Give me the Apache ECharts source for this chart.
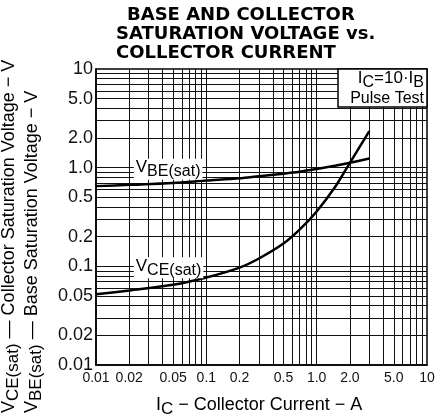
<!DOCTYPE html>
<html><head><meta charset="utf-8">
<script src="https://cdn.jsdelivr.net/npm/echarts@6/dist/echarts.min.js"></script>
<style>html,body{margin:0;padding:0;background:#fff}#c{width:439px;height:415px}</style>
</head><body><div id="c"></div>
<script>
// Collector current (A)
const current = [0.01, 0.02, 0.05, 0.1, 0.2, 0.3, 0.5, 0.7, 1.0, 1.5, 2.0, 3.0];
// VBE(sat) (V)
const vbeSat = [0.65, 0.67, 0.70, 0.74, 0.78, 0.82, 0.87, 0.91, 0.97, 1.05, 1.12, 1.24];
// VCE(sat) (V)
const vceSat = [0.052, 0.057, 0.065, 0.077, 0.097, 0.12, 0.17, 0.235, 0.36, 0.66, 1.12, 2.35];
// Tick labels
const xTickLabels = [0.01, 0.02, 0.05, 0.1, 0.2, 0.5, 1, 2, 5, 10];
const yTickLabels = [0.01, 0.02, 0.05, 0.1, 0.2, 0.5, 1, 2, 5, 10];
// Grid structure
const gridDecades = [0.01, 0.1, 1];
const gridSteps = [2, 3, 4, 5, 6, 7, 8, 9, 10];

function fmt(list) {
  return function (v) {
    for (const t of list) {
      if (Math.abs(Math.log10(v / t)) < 1e-4) {
        if (t >= 10) return String(t);
        if (t >= 1) return t.toFixed(1);
        return String(t);
      }
    }
    return '';
  };
}

const gridLines = [];
gridDecades.forEach(d => gridSteps.forEach(s => {
  const v = +(d * s).toPrecision(3);
  if (v < 10) { gridLines.push({ xAxis: v }); gridLines.push({ yAxis: v }); }
}));

const FONT = 'Liberation Sans, Arial, sans-serif';
const chart = echarts.init(document.getElementById('c'), null, { renderer: 'canvas' });

const option = {
  animation: false,
  backgroundColor: '#fff',
  grid: { left: 96, right: 12, top: 69, bottom: 50, show: true, borderColor: '#000', borderWidth: 1.5, backgroundColor: 'transparent' },
  xAxis: {
    type: 'log', logBase: 10, min: 0.01, max: 10,
    axisLine: { show: true, lineStyle: { color: '#000', width: 1.5 } },
    axisTick: { show: false },
    splitLine: { show: false },
    minorTick: { show: false }, minorSplitLine: { show: false },
    axisLabel: { customValues: xTickLabels, formatter: fmt(xTickLabels), fontSize: 14, color: '#111', margin: 6, fontFamily: FONT, hideOverlap: false }
  },
  yAxis: {
    type: 'log', logBase: 10, min: 0.01, max: 10,
    axisLine: { show: true, lineStyle: { color: '#000', width: 1.5 } },
    axisTick: { show: false },
    splitLine: { show: false },
    minorTick: { show: false }, minorSplitLine: { show: false },
    axisLabel: { customValues: yTickLabels, formatter: fmt(yTickLabels), fontSize: 18, color: '#111', margin: 3, fontFamily: FONT, hideOverlap: false }
  },
  series: [
    {
      type: 'line', data: [], silent: true, z: 1,
      markLine: {
        silent: true, symbol: ['none', 'none'], animation: false,
        label: { show: false },
        lineStyle: { color: '#111', width: 1, type: 'solid' },
        emphasis: { disabled: true },
        data: gridLines
      }
    },
    {
      name: 'VBE(sat)', type: 'line', z: 5, symbol: 'none', smooth: 0.3,
      lineStyle: { color: '#000', width: 2.5 },
      data: current.map((c, i) => [c, vbeSat[i]])
    },
    {
      name: 'VCE(sat)', type: 'line', z: 5, symbol: 'none', smooth: 0.3,
      lineStyle: { color: '#000', width: 2.5 },
      data: current.map((c, i) => [c, vceSat[i]])
    }
  ]
};
chart.setOption(option);

const p = (x, y) => chart.convertToPixel({ gridIndex: 0 }, [x, y]);
const pBE = p(0.022, 1.0);
const pCE = p(0.022, 0.1);
const gTop = p(10, 10);

function rich(size) {
  return {
    m: { fontSize: size, fontFamily: FONT, color: '#000', verticalAlign: 'top', lineHeight: size + 4 },
    s: { fontSize: size - 1, fontFamily: FONT, color: '#000', verticalAlign: 'bottom', lineHeight: size + 4, padding: [6, 0, 0, 0] }
  };
}

chart.setOption({
  graphic: [
    { type: 'text', left: 127, top: 6, style: { text: 'BASE AND COLLECTOR', font: 'bold 18px DejaVu Sans', fill: '#000' } },
    { type: 'text', left: 116, top: 25, style: { text: 'SATURATION VOLTAGE vs.', font: 'bold 18px DejaVu Sans', fill: '#000' } },
    { type: 'text', left: 116, top: 44, style: { text: 'COLLECTOR CURRENT', font: 'bold 18px DejaVu Sans', fill: '#000' } },
    // condition box
    { type: 'rect', z: 50, shape: { x: gTop[0] - 89, y: gTop[1], width: 89, height: 38 }, style: { fill: '#fff', stroke: '#000', lineWidth: 1.5 } },
    { type: 'text', z: 51, x: gTop[0] - 3, y: gTop[1] + 1, style: {
        text: '{m|I}{s|C}{m|=10·I}{s|B}', align: 'right', verticalAlign: 'top', rich: rich(17) } },
    { type: 'text', z: 51, x: gTop[0] - 3, y: gTop[1] + 22, style: {
        text: 'Pulse Test', align: 'right', verticalAlign: 'top', font: '16px ' + FONT, fill: '#000' } },
    // curve labels
    { type: 'text', z: 51, x: pBE[0], y: pBE[1] - 9, style: {
        text: '{m|V}{s|BE(sat)}', align: 'left', verticalAlign: 'top', backgroundColor: '#fff', padding: [0, 2, 0, 2], rich: rich(17) } },
    { type: 'text', z: 51, x: pCE[0], y: pCE[1] - 9, style: {
        text: '{m|V}{s|CE(sat)}', align: 'left', verticalAlign: 'top', backgroundColor: '#fff', padding: [0, 2, 0, 2], rich: rich(17) } },
    // axis titles
    { type: 'text', x: 156, y: 396, style: {
        text: '{m|I}{s|C}{m| − Collector Current − A}', align: 'left', verticalAlign: 'top', rich: rich(18) } },
    { type: 'text', x: 0, y: 413, rotation: Math.PI / 2, style: {
        text: '{m|V}{s|CE(sat)}{m| — Collector Saturation Voltage − V}', align: 'left', verticalAlign: 'top', rich: rich(18) } },
    { type: 'text', x: 23, y: 413, rotation: Math.PI / 2, style: {
        text: '{m|V}{s|BE(sat)}{m| — Base Saturation Voltage − V}', align: 'left', verticalAlign: 'top', rich: rich(18) } }
  ]
});
</script></body></html>
